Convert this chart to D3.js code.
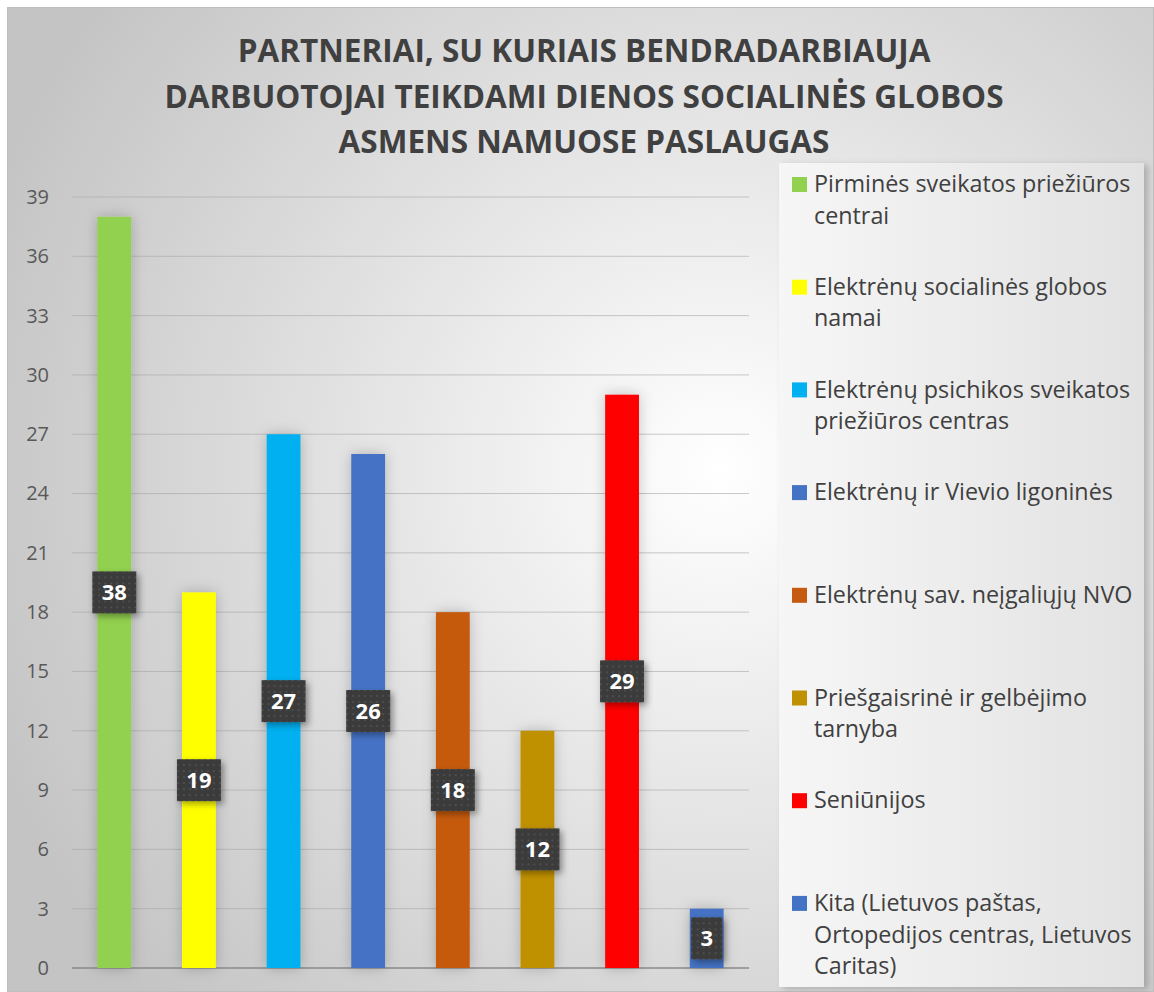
<!DOCTYPE html>
<html>
<head>
<meta charset="utf-8">
<script src="https://cdnjs.cloudflare.com/ajax/libs/d3/7.8.5/d3.min.js"></script>
<style>
  body { margin: 0; background: #fff; }
  svg text { font-family: "Open Sans", Lato, sans-serif; }
</style>
</head>
<body>
<div id="chart"></div>
<script>
var categories = [
    ['Pirminės sveikatos priežiūros', 'centrai'],
    ['Elektrėnų socialinės globos', 'namai'],
    ['Elektrėnų psichikos sveikatos', 'priežiūros centras'],
    ['Elektrėnų ir Vievio ligoninės'],
    ['Elektrėnų sav. neįgaliųjų NVO'],
    ['Priešgaisrinė ir gelbėjimo', 'tarnyba'],
    ['Seniūnijos'],
    ['Kita (Lietuvos paštas,', 'Ortopedijos centras, Lietuvos', 'Caritas)']
];
var values = [38, 19, 27, 26, 18, 12, 29, 3];
var colors = ['#92D050', '#FFFF00', '#00B0F0', '#4472C4', '#C55A11', '#BF9000', '#FF0000', '#4472C4'];
var yTicks = [0, 3, 6, 9, 12, 15, 18, 21, 24, 27, 30, 33, 36, 39];
var titleLines = [
    'PARTNERIAI, SU KURIAIS BENDRADARBIAUJA',
    'DARBUOTOJAI TEIKDAMI DIENOS SOCIALINĖS GLOBOS',
    'ASMENS NAMUOSE PASLAUGAS'
];

var dim = { width: 1154, height: 992 };
var plot = { left: 72, right: 749, top: 197, bottom: 968 };

var svg = d3.select('#chart').append('svg')
    .attr('width', dim.width)
    .attr('height', dim.height);

var defs = svg.append('defs');

var bg = defs.append('radialGradient').attr('id', 'bg')
    .attr('gradientUnits', 'userSpaceOnUse')
    .attr('cx', 720).attr('cy', 470).attr('r', 780);
bg.append('stop').attr('offset', '0%').attr('stop-color', '#ffffff');
bg.append('stop').attr('offset', '100%').attr('stop-color', '#c4c4c4');

var lg = defs.append('linearGradient').attr('id', 'lg')
    .attr('x1', 0).attr('y1', 0).attr('x2', 1).attr('y2', 0);
lg.append('stop').attr('offset', '0%').attr('stop-color', '#f6f6f6');
lg.append('stop').attr('offset', '100%').attr('stop-color', '#e2e2e2');

var shadow = defs.append('filter').attr('id', 'shadow')
    .attr('x', '-60%').attr('y', '-20%').attr('width', '220%').attr('height', '140%');
shadow.append('feDropShadow')
    .attr('dx', 0).attr('dy', 0).attr('stdDeviation', 7)
    .attr('flood-color', '#000').attr('flood-opacity', 0.22);

var lshadow = defs.append('filter').attr('id', 'lshadow')
    .attr('x', '-30%').attr('y', '-30%').attr('width', '160%').attr('height', '160%');
lshadow.append('feDropShadow')
    .attr('dx', 3).attr('dy', 3).attr('stdDeviation', 3)
    .attr('flood-color', '#000').attr('flood-opacity', 0.35);

var boxShadow = defs.append('filter').attr('id', 'boxshadow')
    .attr('x', '-5%').attr('y', '-5%').attr('width', '110%').attr('height', '110%');
boxShadow.append('feDropShadow')
    .attr('dx', 4).attr('dy', 2).attr('stdDeviation', 3)
    .attr('flood-color', '#000').attr('flood-opacity', 0.2);

var dots = defs.append('pattern').attr('id', 'dots')
    .attr('patternUnits', 'userSpaceOnUse').attr('width', 6).attr('height', 6);
dots.append('rect').attr('width', 6).attr('height', 6).attr('fill', '#3b3b3b');
dots.append('circle').attr('cx', 3).attr('cy', 3).attr('r', 0.9).attr('fill', '#555');

// fit a font size so that text hits a target width
function fitSize(el, base, target) {
    var w = el.node().getComputedTextLength();
    return base * target / w;
}

// background
svg.append('rect')
    .attr('x', 7.5).attr('y', 7.5)
    .attr('width', dim.width - 8).attr('height', dim.height - 8)
    .attr('fill', 'url(#bg)')
    .attr('stroke', '#bfbfbf');

// title
var title = svg.append('text')
    .attr('text-anchor', 'middle')
    .attr('font-weight', 'bold')
    .attr('fill', '#404040')
    .attr('font-size', 30);
titleLines.forEach(function(t, i) {
    title.append('tspan').attr('x', 584).attr('y', 62 + i * 45.5).text(t);
});
var t1 = title.select('tspan');
title.attr('font-size', fitSize(t1, 30, 693));

var x = d3.scaleBand()
    .domain(d3.range(values.length))
    .range([plot.left, plot.right])
    .paddingInner(0.6)
    .paddingOuter(0.3);

var y = d3.scaleLinear()
    .domain([0, 39])
    .range([plot.bottom, plot.top]);

// gridlines
svg.append('g')
    .selectAll('line')
    .data(yTicks)
    .join('line')
    .attr('x1', plot.left).attr('x2', plot.right)
    .attr('y1', d => y(d)).attr('y2', d => y(d))
    .attr('stroke', d => d === 0 ? '#8a8a8a' : '#a6a6a6')
    .attr('stroke-opacity', d => d === 0 ? 1 : 0.6)
    .attr('stroke-width', d => d === 0 ? 1.5 : 1);

// y axis labels
var yAxis = d3.axisLeft(y).tickValues(yTicks).tickSize(0).tickPadding(0);
var yg = svg.append('g')
    .attr('transform', 'translate(49,0)')
    .call(yAxis);
yg.select('.domain').remove();
yg.selectAll('text')
    .attr('font-family', '"Open Sans", Lato, sans-serif')
    .attr('font-size', 20)
    .attr('fill', '#595959');

// bars
svg.append('g')
    .selectAll('rect')
    .data(values)
    .join('rect')
    .attr('x', (d, i) => x(i))
    .attr('y', d => y(d))
    .attr('width', x.bandwidth())
    .attr('height', d => y(0) - y(d))
    .attr('fill', (d, i) => colors[i])
    .attr('filter', 'url(#shadow)');

// data labels
var labels = svg.append('g')
    .selectAll('g')
    .data(values)
    .join('g')
    .attr('transform', (d, i) => `translate(${x(i) + x.bandwidth() / 2},${y(d / 2)})`);
labels.append('rect')
    .attr('x', d => d >= 10 ? -22 : -15.5)
    .attr('y', -21)
    .attr('width', d => d >= 10 ? 44 : 31)
    .attr('height', 42)
    .attr('fill', 'url(#dots)')
    .attr('filter', 'url(#lshadow)');
labels.append('text')
    .attr('text-anchor', 'middle')
    .attr('dy', '0.36em')
    .attr('font-size', 22)
    .attr('font-weight', 'bold')
    .attr('fill', '#fff')
    .text(d => d);

// legend
var legend = svg.append('g');
legend.append('rect')
    .attr('x', 779).attr('y', 163)
    .attr('width', 365).attr('height', 824)
    .attr('fill', 'url(#lg)')
    .attr('filter', 'url(#boxshadow)');

var items = legend.selectAll('g.item')
    .data(categories)
    .join('g')
    .attr('class', 'item')
    .attr('transform', (d, i) => `translate(792,${184 + i * 102.7})`);
items.append('rect')
    .attr('x', 0).attr('y', -7)
    .attr('width', 15).attr('height', 15)
    .attr('fill', (d, i) => colors[i]);
var ltext = items.append('text')
    .attr('font-size', 20)
    .attr('fill', '#404040');
ltext.selectAll('tspan')
    .data(d => d)
    .join('tspan')
    .attr('x', 22)
    .attr('y', (d, j) => j * 31.5)
    .attr('dy', '0.35em')
    .text(d => d);
var probe = d3.select(ltext.nodes()[3]).select('tspan');
ltext.attr('font-size', fitSize(probe, 20, 299));
</script>
</body>
</html>
